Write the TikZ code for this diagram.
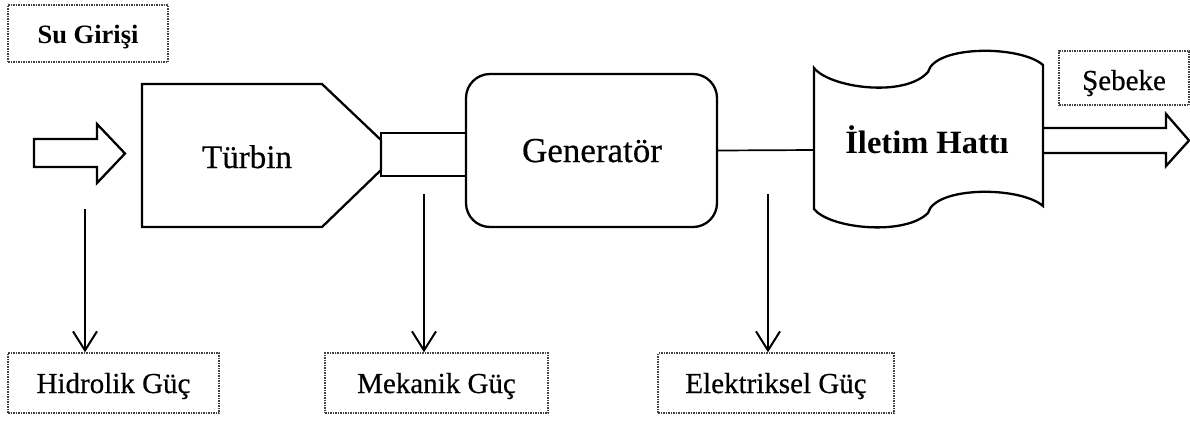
\documentclass[tikz,border=0pt]{standalone}
\usepackage{fontspec}
\setmainfont{Liberation Serif}
\newfontfamily\heavy{Liberation Serif}[FakeBold=0.5]
\usetikzlibrary{arrows.meta}
\tikzset{
  shape line/.style={line width=2.3pt, line join=miter},
  lbl/.style={draw=black!75, densely dotted, line width=1.5pt, inner sep=0pt},
  txt/.style={anchor=base, inner sep=0pt},
  downarrow/.style={line width=2pt, -{Straight Barb[length=19pt,width=24pt,line width=2pt]}},
}
\newcommand{\fs}[1]{\fontsize{#1}{#1}\selectfont}
\begin{document}
\begin{tikzpicture}[x=1pt,y=-1pt]
\useasboundingbox (0,0) rectangle (1190,421);

% Su Girisi label
\node[lbl, minimum width=160pt, minimum height=57pt] (su) at (88,33.5) {};
\node[txt] (sutxt) at (88,43) {\fs{26.5}\bfseries Su Girişi};

% inflow hollow arrow
\draw[shape line] (34,139) -- (97,139) -- (97,124) -- (125,153.5) -- (97,183) -- (97,167) -- (34,167) -- cycle;

% Turbine
\draw[shape line] (142,84) -- (322,84) -- (381,140) -- (381,170) -- (322,227) -- (142,227) -- cycle;
\node[txt] (turb) at (247,168) {\fs{33}\heavy Türbin};

% Shaft
\node[draw, shape line, minimum width=85pt, minimum height=43pt, inner sep=0pt] (shaft) at (423.5,154.5) {};

% Generator
\node[draw, shape line, rounded corners=24pt, minimum width=251pt, minimum height=153pt, inner sep=0pt] (gen) at (591.5,150.5) {};
\node[txt] (gentxt) at (592,162) {\fs{35}\heavy Generatör};

% Transmission line (tape shape)
\draw[shape line] (814,68) .. controls (830,88) and (905,98) .. (928,72)
  .. controls (935,45) and (1020,45) .. (1043,65) -- (1043,206)
  .. controls (1020,186) and (935,186) .. (928,213)
  .. controls (905,236) and (830,229) .. (814,209) -- cycle;
\coordinate (ilL) at (814,150);
\node[txt] (iltxt) at (927,153) {\fs{32.5}\bfseries İletim Hattı};

% connection generator -> transmission line
\draw[line width=1.7pt] (gen.east) -- (ilL);

% outflow hollow arrow
\draw[shape line] (1043,128) -- (1166,128) -- (1166,114) -- (1189,140.5) -- (1166,166) -- (1166,153) -- (1043,153);

% Sebeke label
\node[lbl, minimum width=130pt, minimum height=54pt] (seb) at (1124,78) {};
\node[txt] (sebtxt) at (1124,90) {\fs{29}\heavy Şebeke};

% bottom labels
\node[lbl, minimum width=211pt, minimum height=60pt] (hid) at (113.5,383) {};
\node[txt] (hidtxt) at (113.5,393) {\fs{29}\heavy Hidrolik Güç};
\node[lbl, minimum width=223pt, minimum height=60pt] (mek) at (436.5,383) {};
\node[txt] (mektxt) at (436.5,393) {\fs{29}\heavy Mekanik Güç};
\node[lbl, minimum width=236pt, minimum height=60pt] (ele) at (776,383) {};
\node[txt] (eletxt) at (776,393) {\fs{29}\heavy Elektriksel Güç};

% down arrows
\coordinate (h0) at (85,209);
\coordinate (m0) at (424,194);
\coordinate (e0) at (768,194);
\draw[downarrow] (h0) -- (h0 |- hid.north);
\draw[downarrow] (m0) -- (m0 |- mek.north);
\draw[downarrow] (e0) -- (e0 |- ele.north);
\end{tikzpicture}
\end{document}
